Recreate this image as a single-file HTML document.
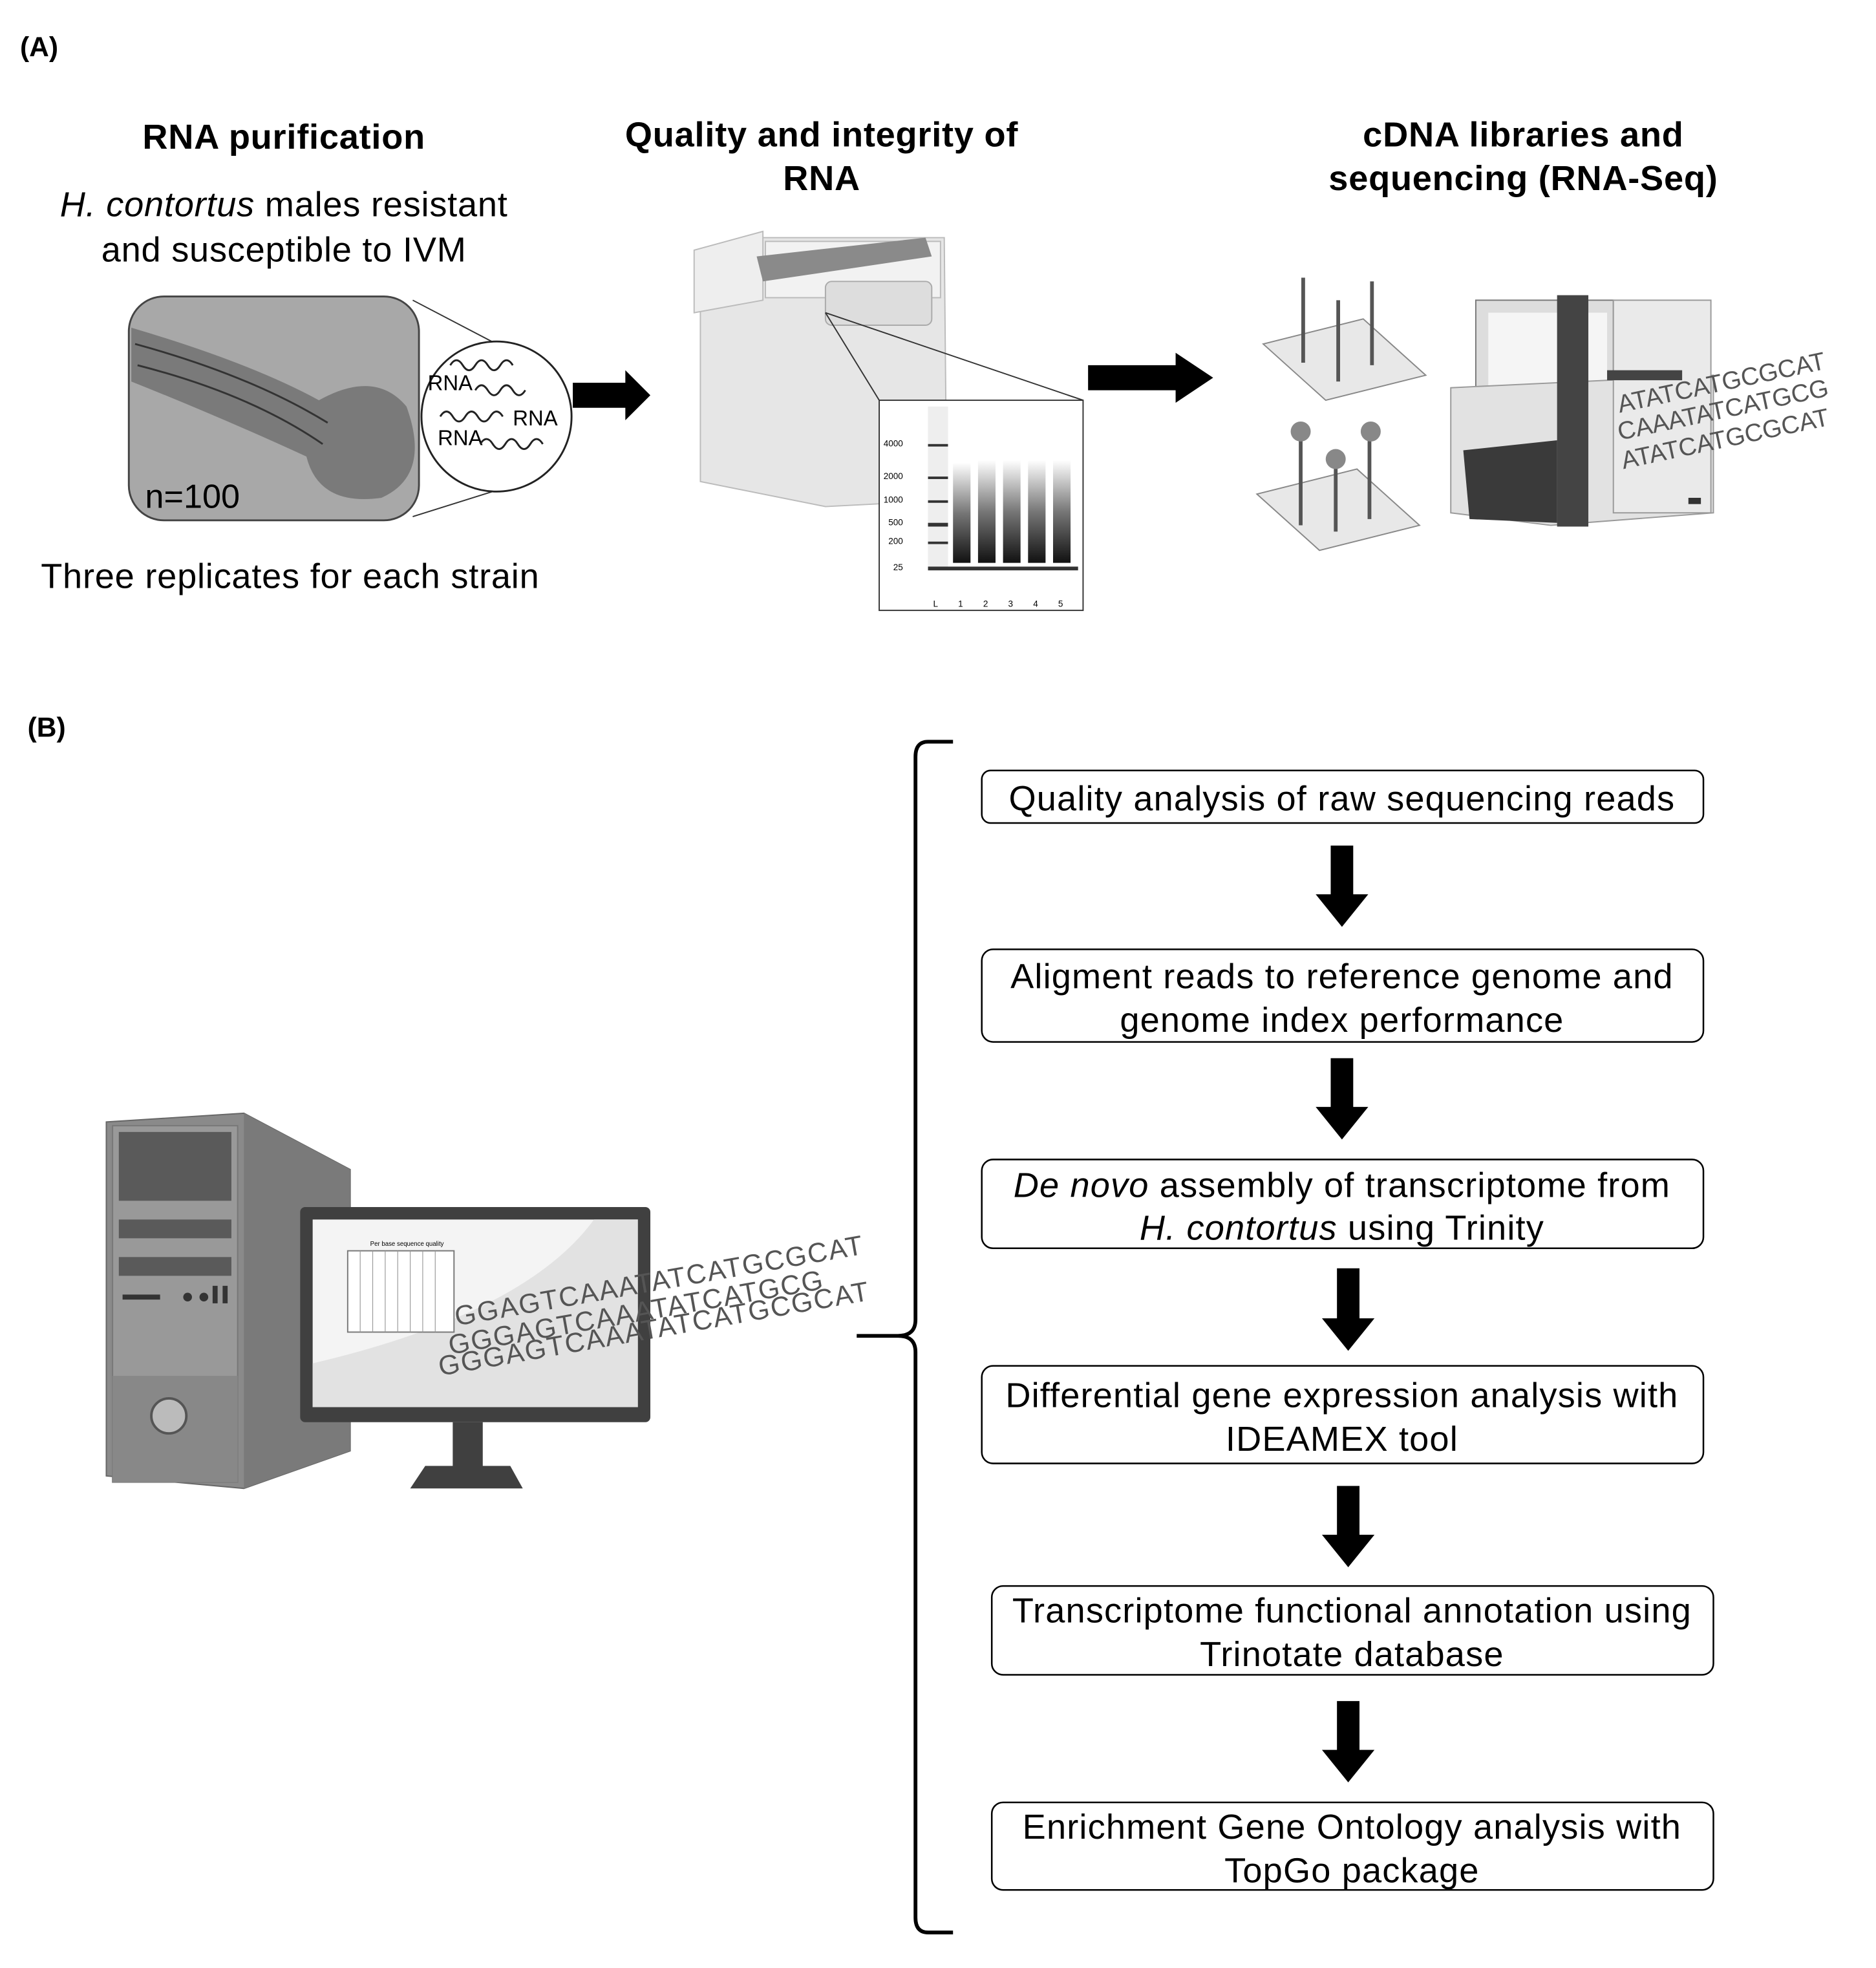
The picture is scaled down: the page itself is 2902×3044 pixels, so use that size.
<!DOCTYPE html>
<html><head><meta charset="utf-8"><style>
html,body{margin:0;padding:0;background:#fff;}
svg{display:block;}
text{font-family:"Liberation Sans",Arial,sans-serif;}
</style></head><body>
<svg width="2902" height="3044" viewBox="0 0 1500 1573.4" xmlns="http://www.w3.org/2000/svg">
<rect width="1500" height="1574" fill="#fff"/>
<!-- Panel A -->
<text x="16" y="45" font-size="22" font-weight="bold">(A)</text>
<g font-size="28" text-anchor="middle" letter-spacing="0.4">
<text x="227" y="119" font-weight="bold">RNA purification</text>
<text x="227" y="173"><tspan font-style="italic">H. contortus</tspan> males resistant</text>
<text x="227" y="209">and susceptible to IVM</text>
<text x="232" y="470">Three replicates for each strain</text>
<text x="657" y="117" font-weight="bold">Quality and integrity of</text>
<text x="657" y="152" font-weight="bold">RNA</text>
<text x="1218" y="117" font-weight="bold">cDNA libraries and</text>
<text x="1218" y="152" font-weight="bold">sequencing (RNA-Seq)</text>
</g>
<!-- worm -->
<rect x="103" y="237" width="232" height="179" rx="28" fill="#a8a8a8" stroke="#444" stroke-width="1.5"/>
<path d="M105 262 Q200 290 255 320 Q300 295 325 325 Q345 380 305 398 Q255 405 245 365 Q180 335 105 305 Z" fill="#6e6e6e" opacity="0.8"/>
<path d="M108 275 Q200 300 262 338 M110 292 Q200 315 258 355" stroke="#333" stroke-width="1.5" fill="none"/>
<text x="116" y="406" font-size="27">n=100</text>
<line x1="330" y1="240" x2="397" y2="275" stroke="#333"/>
<line x1="330" y1="413" x2="397" y2="392" stroke="#333"/>
<ellipse cx="397" cy="333" rx="60" ry="60" fill="#fff" stroke="#222" stroke-width="1.5"/>
<text x="342" y="312" font-size="17">RNA</text>
<text x="410" y="340" font-size="17">RNA</text>
<text x="350" y="356" font-size="17">RNA</text>
<path d="M360 292 q5 -8 10 0 t10 0 t10 0 t10 0 t10 0 M380 312 q5 -8 10 0 t10 0 t10 0 t10 0 M352 333 q5 -8 10 0 t10 0 t10 0 t10 0 t10 0 M384 355 q5 -8 10 0 t10 0 t10 0 t10 0 t10 0" stroke="#222" stroke-width="1.5" fill="none"/>
<polygon points="458,306 500,306 500,296 520,316 500,336 500,326 458,326" fill="#000"/>
<!-- bioanalyzer -->
<polygon points="560,200 610,190 755,190 757,400 660,405 560,385" fill="#e6e6e6" stroke="#bbb"/>
<polygon points="555,200 610,185 610,240 555,250" fill="#eee" stroke="#bbb"/>
<rect x="612" y="193" width="140" height="45" fill="#f2f2f2" stroke="#bbb"/>
<path d="M605 205 L740 190 L745 205 L610 225 Z" fill="#8a8a8a"/>
<rect x="660" y="225" width="85" height="35" rx="5" fill="#ddd" stroke="#aaa"/>
<line x1="660" y1="250" x2="703" y2="320" stroke="#333"/>
<line x1="660" y1="250" x2="866" y2="320" stroke="#333"/>
<rect x="703" y="320" width="163" height="168" fill="#fff" stroke="#333"/>
<g font-size="7" text-anchor="end" fill="#000">
<text x="722" y="357">4000</text><text x="722" y="383">2000</text><text x="722" y="402">1000</text><text x="722" y="420">500</text><text x="722" y="435">200</text><text x="722" y="456">25</text>
<text x="750" y="485">L</text><text x="770" y="485">1</text><text x="790" y="485">2</text><text x="810" y="485">3</text><text x="830" y="485">4</text><text x="850" y="485">5</text>
</g>
<rect x="742" y="325" width="16" height="130" fill="#eee"/>
<g fill="#333"><rect x="742" y="355" width="16" height="2"/><rect x="742" y="381" width="16" height="2"/><rect x="742" y="400" width="16" height="2"/><rect x="742" y="418" width="16" height="3"/><rect x="742" y="433" width="16" height="2"/><rect x="742" y="453" width="120" height="3"/></g>
<defs><linearGradient id="lg" x1="0" y1="0" x2="0" y2="1"><stop offset="0" stop-color="#fff"/><stop offset="0.5" stop-color="#777"/><stop offset="1" stop-color="#111"/></linearGradient></defs>
<rect x="762" y="370" width="14" height="80" fill="url(#lg)"/><rect x="782" y="368" width="14" height="82" fill="url(#lg)"/><rect x="802" y="368" width="14" height="82" fill="url(#lg)"/><rect x="822" y="368" width="14" height="82" fill="url(#lg)"/><rect x="842" y="368" width="14" height="82" fill="url(#lg)"/>
<polygon points="870,292 940,292 940,282 970,302 940,322 940,312 870,312" fill="#000"/>
<!-- slides -->
<polygon points="1010,275 1090,255 1140,300 1060,320" fill="#e8e8e8" stroke="#888"/>
<polygon points="1005,395 1085,375 1135,420 1055,440" fill="#e8e8e8" stroke="#888"/>
<g stroke="#555" stroke-width="3"><line x1="1042" y1="222" x2="1042" y2="290"/><line x1="1070" y1="240" x2="1070" y2="305"/><line x1="1097" y1="225" x2="1097" y2="292"/><line x1="1040" y1="345" x2="1040" y2="420"/><line x1="1068" y1="365" x2="1068" y2="425"/><line x1="1095" y1="345" x2="1095" y2="415"/></g>
<circle cx="1040" cy="345" r="8" fill="#888"/><circle cx="1068" cy="367" r="8" fill="#888"/><circle cx="1096" cy="345" r="8" fill="#888"/>
<!-- sequencer -->
<rect x="1180" y="240" width="110" height="90" fill="#ddd" stroke="#777"/>
<rect x="1190" y="250" width="95" height="70" fill="#f5f5f5"/>
<polygon points="1160,310 1370,300 1370,410 1240,420 1160,410" fill="#e2e2e2" stroke="#999"/>
<rect x="1245" y="236" width="25" height="185" fill="#444"/>
<rect x="1290" y="240" width="78" height="170" fill="#eaeaea" stroke="#999"/>
<rect x="1285" y="296" width="60" height="8" fill="#444"/>
<polygon points="1170,360 1245,352 1245,418 1175,415" fill="#3a3a3a"/>
<rect x="1350" y="398" width="10" height="5" fill="#333"/>
<g font-size="20" fill="#555">
<text x="1295" y="330" transform="rotate(-12 1295 330)">ATATCATGCGCAT</text>
<text x="1295" y="352" transform="rotate(-12 1295 352)">CAAATATCATGCG</text>
<text x="1298" y="375" transform="rotate(-12 1298 375)">ATATCATGCGCAT</text>
</g>
<!-- Panel B -->
<text x="22" y="589" font-size="22" font-weight="bold">(B)</text>
<!-- tower -->
<polygon points="85,897 195,890 280,935 280,1160 195,1190 85,1180" fill="#8a8a8a" stroke="#666"/>
<polygon points="195,890 280,935 280,1160 195,1190" fill="#7a7a7a"/>
<rect x="90" y="900" width="100" height="285" fill="#999" stroke="#777"/>
<rect x="95" y="905" width="90" height="55" fill="#5a5a5a"/>
<rect x="95" y="975" width="90" height="15" fill="#5a5a5a"/>
<rect x="95" y="1005" width="90" height="15" fill="#5a5a5a"/>
<rect x="98" y="1035" width="30" height="4" fill="#333"/>
<circle cx="150" cy="1037" r="3.5" fill="#333"/><circle cx="163" cy="1037" r="3.5" fill="#333"/>
<rect x="170" y="1028" width="4" height="14" fill="#333"/><rect x="178" y="1028" width="4" height="14" fill="#333"/>
<rect x="90" y="1100" width="100" height="85" fill="#888"/>
<circle cx="135" cy="1132" r="14" fill="#bbb" stroke="#555" stroke-width="2"/>
<!-- monitor -->
<rect x="240" y="965" width="280" height="172" rx="4" fill="#404040"/>
<rect x="250" y="975" width="260" height="150" fill="#f4f4f4"/>
<path d="M250 1090 Q420 1050 475 975 L510 975 L510 1125 L250 1125 Z" fill="#e2e2e2"/>
<rect x="278" y="1000" width="85" height="65" fill="#fff" stroke="#777"/>
<g stroke="#999" stroke-width="0.6"><line x1="288" y1="1000" x2="288" y2="1065"/><line x1="298" y1="1000" x2="298" y2="1065"/><line x1="308" y1="1000" x2="308" y2="1065"/><line x1="318" y1="1000" x2="318" y2="1065"/><line x1="328" y1="1000" x2="328" y2="1065"/><line x1="338" y1="1000" x2="338" y2="1065"/><line x1="348" y1="1000" x2="348" y2="1065"/></g>
<text x="296" y="996" font-size="5">Per base sequence quality</text>
<rect x="362" y="1137" width="24" height="38" fill="#404040"/>
<polygon points="340,1172 408,1172 418,1190 328,1190" fill="#404040"/>
<g font-size="22" fill="#555" letter-spacing="1">
<text x="365" y="1060" transform="rotate(-10 365 1060)">GGAGTCAAATATCATGCGCAT</text>
<text x="360" y="1083" transform="rotate(-10 360 1083)">GGGAGTCAAATATCATGCG</text>
<text x="352" y="1100" transform="rotate(-10 352 1100)">GGGAGTCAAATATCATGCGCAT</text>
</g>
<!-- bracket -->
<path d="M762 593 L742 593 Q732 593 732 605 L732 1055 Q732 1068 718 1068 L685 1068 M718 1068 Q732 1068 732 1081 L732 1533 Q732 1545 742 1545 L762 1545" stroke="#000" stroke-width="3" fill="none"/>
<!-- boxes -->
<g fill="#fff" stroke="#000" stroke-width="1.3">
<rect x="785" y="616" width="577" height="42" rx="7"/>
<rect x="785" y="759" width="577" height="74" rx="9"/>
<rect x="785" y="927" width="577" height="71" rx="9"/>
<rect x="785" y="1092" width="577" height="78" rx="9"/>
<rect x="793" y="1268" width="577" height="71" rx="9"/>
<rect x="793" y="1441" width="577" height="70" rx="9"/>
</g>
<g font-size="28" text-anchor="middle" letter-spacing="0.6">
<text x="1073" y="648">Quality analysis of raw sequencing reads</text>
<text x="1073" y="790">Aligment reads to reference genome and</text>
<text x="1073" y="825">genome index performance</text>
<text x="1073" y="957"><tspan font-style="italic">De novo</tspan> assembly of transcriptome from</text>
<text x="1073" y="991"><tspan font-style="italic">H. contortus</tspan> using Trinity</text>
<text x="1073" y="1125">Differential gene expression analysis with</text>
<text x="1073" y="1160">IDEAMEX tool</text>
<text x="1081" y="1297">Transcriptome functional annotation using</text>
<text x="1081" y="1332">Trinotate database</text>
<text x="1081" y="1470">Enrichment Gene Ontology analysis with</text>
<text x="1081" y="1505">TopGo package</text>
</g>
<g fill="#000">
<polygon points="1064,676 1082,676 1082,715 1094,715 1073,741 1052,715 1064,715"/>
<polygon points="1064,846 1082,846 1082,885 1094,885 1073,911 1052,885 1064,885"/>
<polygon points="1069,1014 1087,1014 1087,1054 1099,1054 1078,1080 1057,1054 1069,1054"/>
<polygon points="1069,1188 1087,1188 1087,1227 1099,1227 1078,1253 1057,1227 1069,1227"/>
<polygon points="1069,1360 1087,1360 1087,1399 1099,1399 1078,1425 1057,1399 1069,1399"/>
</g>
</svg>
</body></html>
